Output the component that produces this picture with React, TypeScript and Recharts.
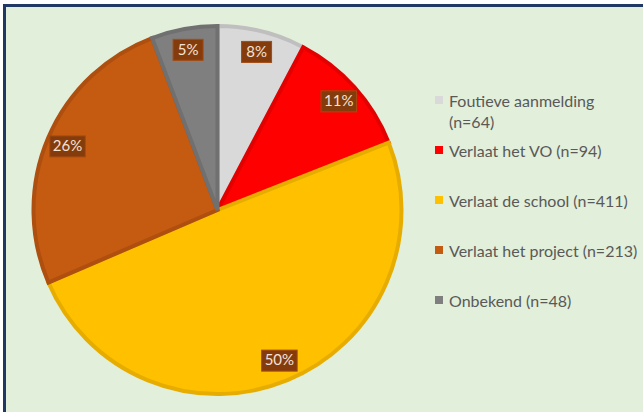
import React from 'react';
import { PieChart, Pie, Cell, Legend } from 'recharts';

const NAMES = ['Foutieve aanmelding', 'Verlaat het VO', 'Verlaat de school', 'Verlaat het project', 'Onbekend'];
const COUNTS = [64, 94, 411, 213, 48];
const PCT_LABELS = ['8%', '11%', '50%', '26%', '5%'];
const FILLS = ['#D9D9D9', '#FF0000', '#FFC000', '#C55A11', '#7F7F7F'];
const STROKES = ['#BFBFBF', '#E30000', '#E6AD00', '#AE4F10', '#707070'];

const DATA = NAMES.map((name, i) => ({ name, value: COUNTS[i], pct: PCT_LABELS[i] }));

const FONT = 'Lato, "Open Sans", sans-serif';
const RAD = Math.PI / 180;

const renderLabel = (props: any) => {
    const { cx, cy, midAngle, outerRadius, index } = props;
    const r = outerRadius * 0.885;
    const x = cx + r * Math.cos(-midAngle * RAD);
    const y = cy + r * Math.sin(-midAngle * RAD);
    const txt = PCT_LABELS[index];
    const w = txt.length * 5.5 + 19;
    const h = 21;
    return (
        <g>
            <rect x={x - w / 2} y={y - h / 2} width={w} height={h} fill="#843C0C" stroke="#A54B12" strokeWidth={1} />
            <text x={x} y={y + 1} textAnchor="middle" dominantBaseline="middle" fill="#F3E2D8" fontSize={15} fontFamily={FONT}>
                {txt}
            </text>
        </g>
    );
};

const renderLegend = () => (
    <ul style={{ listStyle: 'none', margin: 0, padding: 0, fontFamily: FONT, fontSize: 16, color: '#595959' }}>
        {NAMES.map((name, i) => (
            <li key={name} style={{ height: 50, position: 'relative', paddingLeft: 14 }}>
                <span style={{ position: 'absolute', left: 0, top: 6, width: 8, height: 8, background: FILLS[i] }} />
                <div style={{ lineHeight: '21px', width: i === 0 ? 160 : 200, whiteSpace: i === 0 ? 'normal' : 'nowrap' }}>
                    {name} (n={COUNTS[i]})
                </div>
            </li>
        ))}
    </ul>
);

export default function App() {
    return (
        <div style={{
            position: 'absolute', left: 3, top: 4, width: 640, height: 408, boxSizing: 'border-box',
            borderLeft: '3px solid #203864', borderTop: '3px solid #203864', background: '#E2EFDA', overflow: 'hidden'
        }}>
            <PieChart width={637} height={405} margin={{ top: 0, right: 0, bottom: 0, left: 0 }}>
                <Pie
                    data={DATA}
                    dataKey="value"
                    nameKey="name"
                    cx={211.5}
                    cy={203}
                    outerRadius={184}
                    startAngle={90}
                    endAngle={-270}
                    strokeWidth={4}
                    label={renderLabel}
                    labelLine={false}
                    isAnimationActive={false}
                >
                    {DATA.map((d, i) => (
                        <Cell key={d.name} fill={FILLS[i]} stroke={STROKES[i]} />
                    ))}
                </Pie>
                <Legend
                    layout="vertical"
                    content={renderLegend}
                    wrapperStyle={{ position: 'absolute', left: 429, top: 83, width: 210 }}
                />
            </PieChart>
        </div>
    );
}
